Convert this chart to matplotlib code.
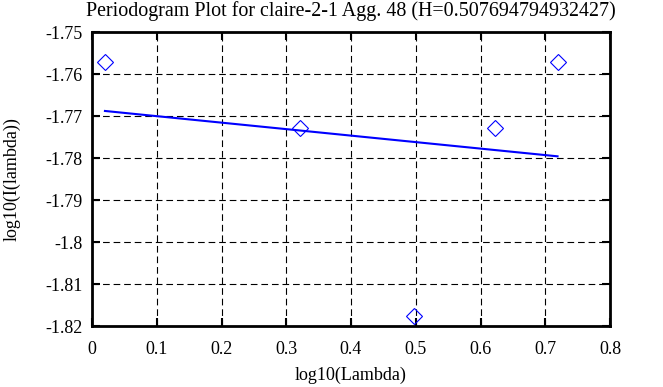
import matplotlib
matplotlib.use("Agg")
import matplotlib.pyplot as plt

# periodogram points (log10 lambda, log10 I(lambda))
log_lambda = [0.020, 0.321, 0.497, 0.622, 0.719]
log_power = [-1.7571, -1.7728, -1.8175, -1.7728, -1.7571]

# fitted line, endpoints
fit_x = [0.020, 0.719]
fit_y = [-1.7688, -1.7796]

x_ticks = [0, 0.1, 0.2, 0.3, 0.4, 0.5, 0.6, 0.7, 0.8]
x_labels = ["0", "0.1", "0.2", "0.3", "0.4", "0.5", "0.6", "0.7", "0.8"]
y_ticks = [-1.75, -1.76, -1.77, -1.78, -1.79, -1.8, -1.81, -1.82]
y_labels = ["-1.75", "-1.76", "-1.77", "-1.78", "-1.79", "-1.8", "-1.81", "-1.82"]

plt.rcParams["font.family"] = ["Liberation Serif", "DejaVu Serif"]
plt.rcParams["font.size"] = 13
plt.rcParams["axes.unicode_minus"] = False

fig = plt.figure(figsize=(6.63, 3.87), dpi=100)
W, H = 663, 387
ax = fig.add_axes([92 / W, 1 - 326 / H, (610 - 92) / W, (326 - 32) / H])

ax.plot(fit_x, fit_y, color="#0000ff", lw=1.5)
ax.plot(log_lambda, log_power, linestyle="none", marker="D", markersize=8,
        markerfacecolor="none", markeredgecolor="#0000ff", markeredgewidth=0.8)

ax.set_xlim(0, 0.8)
ax.set_ylim(-1.82, -1.75)
ax.set_xticks(x_ticks)
ax.set_xticklabels(x_labels)
ax.set_yticks(y_ticks)
ax.set_yticklabels(y_labels)
ax.tick_params(direction="in", length=6, width=1.5, top=True, right=True)
ax.tick_params(axis="x", pad=11)
ax.tick_params(axis="y", pad=7)
ax.grid(True, color="black", linestyle=(0, (6, 3.5)), linewidth=0.8)
for s in ax.spines.values():
    s.set_linewidth(2)

ax.set_title("Periodogram Plot for claire-2-1 Agg. 48 (H=0.507694794932427)",
             fontsize=14.4, pad=11.5)
ax.set_xlabel("log10(Lambda)")
ax.set_ylabel("log10(I(lambda))")
ax.xaxis.set_label_coords(0.5, -0.14)
ax.yaxis.set_label_coords(-0.137, 0.5)

fig.savefig("out.png", dpi=100)
